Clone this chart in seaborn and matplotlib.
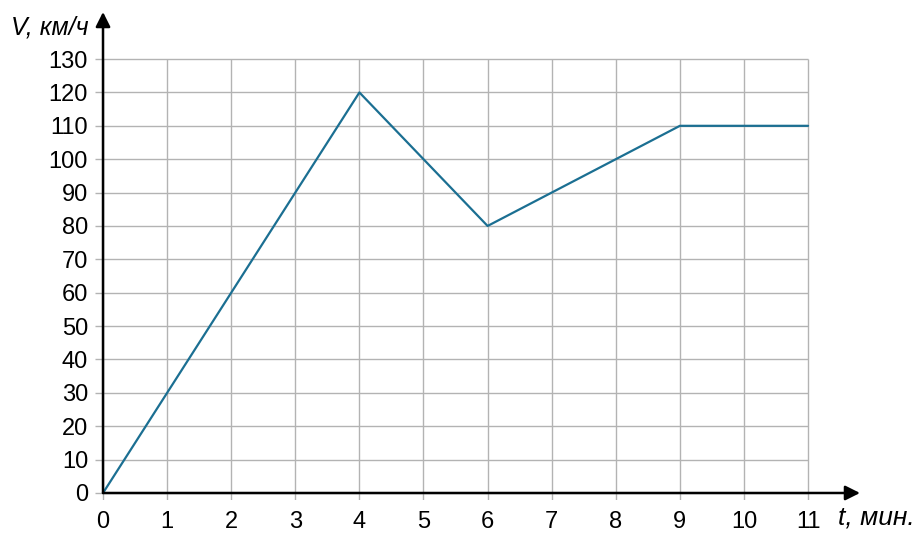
import matplotlib.pyplot as plt
import numpy as np
import pandas as pd
import seaborn as sns

# data
t_min = [0, 1, 2, 3, 4, 5, 6, 7, 8, 9, 10, 11]
speed_kmh = [0, 30, 60, 90, 120, 100, 80, 90, 100, 110, 110, 110]
x_ticks = list(range(0, 12))
y_ticks = list(range(0, 140, 10))

sns.set_style('white')
plt.rcParams['font.family'] = ['Liberation Sans', 'DejaVu Sans']
plt.rcParams['text.color'] = 'black'
plt.rcParams['xtick.color'] = 'black'
plt.rcParams['ytick.color'] = 'black'

df = pd.DataFrame({'t': t_min, 'v': speed_kmh})

fig = plt.figure(figsize=(9.2, 5.42), dpi=100)
# axes box in pixels: x 95..860, y 12..500 (from top)
ax = fig.add_axes([95 / 920, (542 - 500) / 542, 765 / 920, 488 / 542])

x_lo, x_hi = -0.125, 11.81
y_lo, y_hi = -2.1, 144.1
ax.set_xlim(x_lo, x_hi)
ax.set_ylim(y_lo, y_hi)

grid_color = '#b3b3b3'
ax.hlines(y_ticks, x_lo, max(x_ticks), color=grid_color, lw=1, zorder=1)
ax.vlines(x_ticks, y_lo, max(y_ticks), color=grid_color, lw=1, zorder=1)

sns.lineplot(data=df, x='t', y='v', ax=ax, color='#1b6f92', lw=1.6, zorder=3)

arrow = dict(arrowstyle='-|>', color='black', lw=1.8, mutation_scale=22,
             shrinkA=0, shrinkB=0)
ax.annotate('', xy=(x_hi, 0), xytext=(0, 0), arrowprops=arrow, zorder=4,
            annotation_clip=False)
ax.annotate('', xy=(0, y_hi), xytext=(0, 0), arrowprops=arrow, zorder=4,
            annotation_clip=False)

for s in ax.spines.values():
    s.set_visible(False)
ax.set_xticks(x_ticks)
ax.set_yticks(y_ticks)
ax.tick_params(axis='both', length=0, labelsize=17, labelcolor='black')
ax.tick_params(axis='x', pad=8)
ax.tick_params(axis='y', pad=5)
ax.set_xlabel('')
ax.set_ylabel('')

fig.text(11 / 920, 1 - 27 / 542, 'V, км/ч', fontsize=18, style='italic',
         ha='left', va='center', color='black')
fig.text(838 / 920, 1 - 518 / 542, 't, мин.', fontsize=19, style='italic',
         ha='left', va='center', color='black')

plt.savefig('out.png', dpi=100)
plt.close()
